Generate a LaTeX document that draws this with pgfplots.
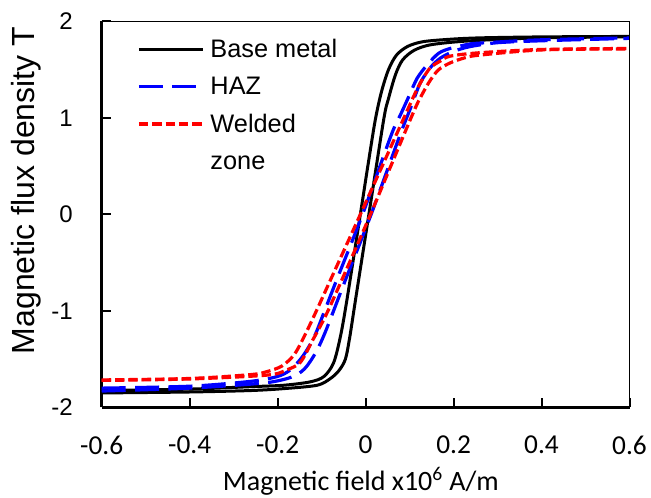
\documentclass[border=0pt]{standalone}
\usepackage{pgfplots}
\pgfplotsset{compat=1.18}
\usepackage{fontspec}
\setmainfont{Liberation Sans}
\newfontfamily\calibri{Carlito}
\newcommand{\lgent}[1]{\raisebox{0pt}[14pt][5pt]{#1}}
\begin{document}
\begin{tikzpicture}
\path[use as bounding box] (-76.3pt,-67.9pt) rectangle (411.98pt,305.6pt);
\begin{axis}[
  at={(0,0)}, anchor=south west, scale only axis,
  width=395.85pt, height=289.5pt,
  xmin=-0.6, xmax=0.6, ymin=-2, ymax=2,
  axis lines*=left,
  axis line style={line width=2pt, -},
  xtick={-0.6,-0.4,-0.2,0,0.2,0.4,0.6},
  xticklabels={-0.6,-0.4,-0.2,0,0.2,0.4,0.6},
  ytick={-2,-1,0,1,2},
  yticklabels={-2,-1,0,1,2},
  tick align=inside, major tick length=7pt,
  tick style={line width=1.5pt, black},
  xticklabel style={font=\calibri\fontsize{20.5pt}{24pt}\selectfont, anchor=north, inner sep=0pt, yshift=-21.4pt},
  yticklabel style={font=\fontsize{18pt}{22pt}\selectfont, anchor=east, inner sep=0pt, xshift=-21.5pt},
  xlabel={Magnetic field x10\textsuperscript{6} A/m},
  xlabel style={font=\calibri\fontsize{21pt}{25pt}\selectfont, at={(axis description cs:0.491,-0.1917)}, anchor=center, inner sep=0pt},
  ylabel={Magnetic flux density T},
  ylabel style={font=\fontsize{24pt}{28pt}\selectfont, at={(axis description cs:-0.1425,0.562)}, anchor=center, inner sep=0pt},
  clip mode=individual,
  legend style={at={(axis description cs:0.0593,0.9624)}, anchor=north west, draw=none, fill=none,
    font=\fontsize{19pt}{22pt}\selectfont, row sep=12.5pt, column sep=4.5pt, nodes={inner sep=0pt}},
  legend cell align=left,
  legend image code/.code={\draw[#1] (0pt,0pt) -- (48pt,0pt);},
]
% Base metal
\addplot[black, line width=2.25pt, smooth] coordinates {
(-0.6,-1.825) (-0.4,-1.81) (-0.262,-1.785) (-0.186,-1.77) (-0.126,-1.735) (-0.095,-1.68) (-0.073,-1.54) (-0.0575,-1.27) (-0.043,-0.9) (-0.012,0) (0.005,0.5) (0.022,0.98) (0.036,1.27) (0.052,1.5) (0.07,1.65) (0.095,1.74) (0.13,1.79) (0.19,1.815) (0.26,1.83) (0.4,1.84) (0.6,1.845)};
\addlegendentry{\lgent{Base metal}}
\addplot[black, line width=2.25pt, smooth, forget plot] coordinates {
(-0.6,-1.85) (-0.4,-1.84) (-0.262,-1.825) (-0.186,-1.805) (-0.11,-1.77) (-0.08,-1.70) (-0.061,-1.62) (-0.046,-1.50) (-0.036,-1.27) (-0.023,-0.886) (0.0074,0) (0.041,0.98) (0.052,1.2) (0.068,1.45) (0.084,1.6) (0.11,1.70) (0.15,1.76) (0.24,1.80) (0.4,1.83) (0.6,1.84)};
% HAZ
\addplot[blue, line width=2.4pt, smooth, dash pattern=on 18pt off 7pt] coordinates {
(-0.6,-1.80) (-0.4,-1.78) (-0.262,-1.73) (-0.201,-1.68) (-0.171,-1.61) (-0.143,-1.47) (-0.117,-1.27) (-0.095,-1.02) (-0.066,-0.68) (-0.007,0) (0.058,0.82) (0.079,1.03) (0.098,1.22) (0.117,1.41) (0.14,1.55) (0.166,1.67) (0.192,1.72) (0.23,1.76) (0.257,1.775) (0.4,1.81) (0.6,1.83)};
\addlegendentry{\lgent{HAZ}}
\addplot[blue, line width=2.4pt, smooth, dash pattern=on 18pt off 7pt, forget plot] coordinates {
(-0.6,-1.83) (-0.4,-1.80) (-0.239,-1.75) (-0.186,-1.71) (-0.156,-1.66) (-0.135,-1.58) (-0.112,-1.42) (-0.09,-1.20) (-0.046,-0.68) (0.0125,0) (0.078,0.82) (0.102,1.10) (0.124,1.36) (0.147,1.52) (0.17,1.62) (0.2,1.69) (0.238,1.74) (0.3,1.78) (0.4,1.80) (0.6,1.825)};
% Welded zone
\addplot[red, line width=2.4pt, smooth, dash pattern=on 7pt off 3pt] coordinates {
(-0.6,-1.715) (-0.4,-1.70) (-0.262,-1.66) (-0.225,-1.63) (-0.19,-1.57) (-0.162,-1.45) (-0.138,-1.25) (-0.112,-1.0) (-0.08,-0.68) (-0.012,0) (0.094,1.07) (0.113,1.26) (0.128,1.39) (0.147,1.52) (0.17,1.59) (0.192,1.64) (0.257,1.675) (0.4,1.71) (0.6,1.72)};
\addlegendentry{\lgent{Welded}}
\addplot[red, line width=2.4pt, smooth, dash pattern=on 7pt off 3pt, forget plot] coordinates {
(-0.6,-1.72) (-0.4,-1.705) (-0.224,-1.665) (-0.179,-1.61) (-0.148,-1.53) (-0.12,-1.30) (-0.092,-1.06) (-0.061,-0.75) (0.011,0) (0.106,1.03) (0.128,1.24) (0.147,1.39) (0.166,1.50) (0.192,1.57) (0.223,1.62) (0.257,1.65) (0.4,1.705) (0.6,1.715)};
\addlegendimage{empty legend}
\addlegendentry{\lgent{zone}}
\draw[line width=1.1pt] (rel axis cs:0,1) -- (rel axis cs:1,1) -- (rel axis cs:1,0);
\end{axis}
\end{tikzpicture}
\end{document}
